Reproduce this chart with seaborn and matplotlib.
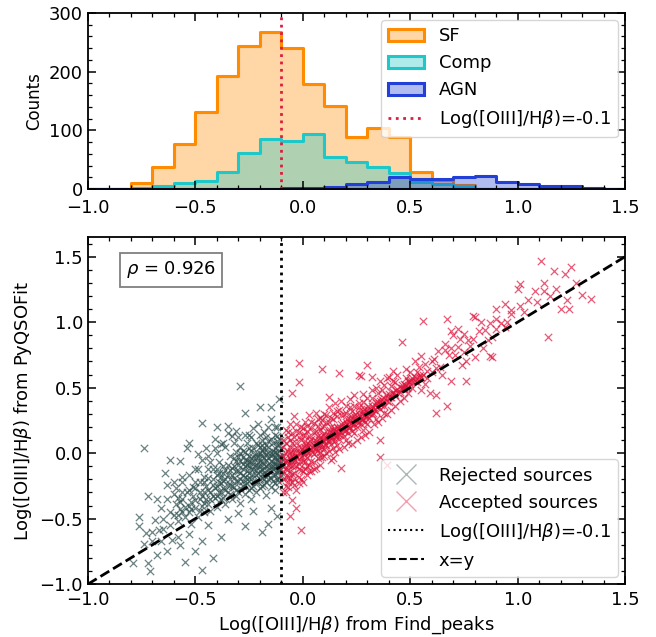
import numpy as np
import pandas as pd
import seaborn as sns
import matplotlib
matplotlib.use("Agg")
import matplotlib.pyplot as plt
from matplotlib.ticker import MultipleLocator
from matplotlib.patches import Patch
from matplotlib.lines import Line2D

# ---------------- data ----------------
bin_edges = [round(-1.0 + 0.1 * i, 2) for i in range(26)]
sf_counts = [1, 0, 11, 37, 77, 131, 192, 244, 267, 240, 178, 141, 89, 104, 89, 29, 16, 7, 1, 0, 0, 0, 0, 0, 0]
comp_counts = [0, 0, 2, 5, 11, 14, 29, 62, 86, 82, 93, 54, 46, 37, 28, 12, 8, 3, 0, 0, 0, 0, 0, 0, 0]
agn_counts = [0, 0, 0, 0, 0, 0, 0, 0, 1, 2, 2, 3, 9, 12, 20, 18, 17, 20, 22, 12, 8, 6, 6, 2, 1]

rejected_pts = [
    (-0.29, 0.51), (-0.20, 0.35), (-0.15, 0.35), (-0.27, 0.31), (-0.11, 0.41), (-0.15, 0.26), (-0.21, 0.22),
    (-0.23, 0.19), (-0.47, 0.23), (-0.40, 0.20), (-0.35, 0.21), (-0.33, 0.13), (-0.74, 0.04), (-0.62, -0.05),
    (-0.57, -0.06), (-0.64, -0.15), (-0.72, -0.33), (-0.76, -0.49), (-0.76, -0.56), (-0.79, -0.84), (-0.72, -0.84),
    (-0.71, -0.90), (-0.47, -0.89), (-0.53, 0.08), (-0.54, 0.04), (-0.49, -0.01), (-0.45, 0.04), (-0.41, 0.11),
    (-0.29, 0.05), (-0.40, 0.00), (-0.51, -0.26), (-0.49, -0.12), (-0.63, -0.35), (-0.60, -0.31), (-0.69, -0.51),
    (-0.74, -0.69), (-0.68, -0.78), (-0.63, -0.75), (-0.55, -0.83), (-0.50, -0.75), (-0.42, -0.80), (-0.19, -0.60),
    (-0.16, -0.54), (-0.27, -0.56), (-0.38, -0.64), (-0.58, -0.64),
    (-0.35, 0.15), (-0.31, 0.17), (-0.25, 0.14), (-0.18, 0.16), (-0.13, 0.20), (-0.12, 0.13), (-0.37, 0.08),
    (-0.43, -0.07), (-0.46, -0.18), (-0.56, -0.18), (-0.60, -0.22), (-0.66, -0.42), (-0.70, -0.60), (-0.65, -0.58),
    (-0.61, -0.66), (-0.57, -0.70), (-0.53, -0.62), (-0.47, -0.67), (-0.44, -0.55), (-0.35, -0.50), (-0.30, -0.46),
    (-0.23, -0.44), (-0.15, -0.42), (-0.12, -0.48),
    (-0.60, -0.47), (-0.59, -0.39), (-0.58, -0.52), (-0.57, -0.43), (-0.56, -0.35), (-0.55, -0.49), (-0.55, -0.41),
    (-0.54, -0.30), (-0.53, -0.45), (-0.52, -0.37), (-0.52, -0.54), (-0.51, -0.33), (-0.50, -0.42), (-0.50, -0.27),
    (-0.49, -0.49), (-0.48, -0.35), (-0.48, -0.22), (-0.47, -0.40), (-0.46, -0.30), (-0.46, -0.45), (-0.45, -0.25),
    (-0.45, -0.35),
    (-0.44, -0.39), (-0.44, -0.19), (-0.43, -0.30), (-0.43, -0.44), (-0.42, -0.24), (-0.42, -0.12), (-0.41, -0.34),
    (-0.41, -0.27), (-0.40, -0.17), (-0.40, -0.41), (-0.39, -0.30), (-0.39, -0.07), (-0.38, -0.23), (-0.38, -0.35),
    (-0.37, -0.15), (-0.37, -0.27), (-0.36, -0.39), (-0.36, -0.20), (-0.35, -0.09), (-0.35, -0.30), (-0.34, -0.24),
    (-0.34, -0.02), (-0.33, -0.17), (-0.33, -0.35), (-0.32, -0.26), (-0.32, -0.10), (-0.31, -0.21), (-0.31, 0.01),
    (-0.30, -0.30), (-0.30, -0.14),
    (-0.29, -0.20), (-0.29, -0.06), (-0.29, -0.38), (-0.28, -0.25), (-0.28, -0.12), (-0.28, 0.02), (-0.27, -0.18),
    (-0.27, -0.31), (-0.26, -0.09), (-0.26, -0.23), (-0.26, 0.08), (-0.25, -0.15), (-0.25, -0.28), (-0.25, -0.02),
    (-0.24, -0.20), (-0.24, -0.07), (-0.24, -0.35), (-0.23, -0.12), (-0.23, 0.04), (-0.23, -0.25), (-0.22, -0.17),
    (-0.22, -0.04), (-0.22, -0.30), (-0.21, -0.10), (-0.21, 0.06), (-0.21, -0.22), (-0.20, -0.14), (-0.20, 0.00),
    (-0.20, -0.27), (-0.19, -0.07), (-0.19, -0.19), (-0.19, 0.10), (-0.18, -0.11), (-0.18, -0.24), (-0.18, 0.01),
    (-0.17, -0.16), (-0.17, -0.05), (-0.17, -0.32), (-0.16, -0.09), (-0.16, 0.05), (-0.16, -0.20), (-0.15, -0.13),
    (-0.15, -0.02), (-0.15, -0.26), (-0.14, -0.07), (-0.14, 0.08), (-0.14, -0.17), (-0.13, -0.11), (-0.13, 0.01),
    (-0.13, -0.23), (-0.12, -0.05), (-0.12, -0.15), (-0.12, 0.06), (-0.11, -0.09), (-0.11, -0.19), (-0.11, 0.02),
    (-0.105, -0.03), (-0.105, -0.13), (-0.105, 0.10), (-0.10, -0.07), (-0.10, -0.17), (-0.10, 0.04),
    (-0.27, -0.05), (-0.24, 0.02), (-0.21, -0.03), (-0.18, -0.04), (-0.15, -0.06), (-0.13, -0.04), (-0.11, -0.03),
    (-0.19, -0.12), (-0.16, -0.13), (-0.14, -0.12), (-0.12, -0.10), (-0.22, -0.09), (-0.25, -0.10), (-0.28, -0.17),
    (-0.31, -0.33), (-0.34, -0.13), (-0.37, -0.21), (-0.40, -0.25), (-0.43, -0.35), (-0.47, -0.33), (-0.52, -0.43),
    (-0.57, -0.37), (-0.62, -0.45), (-0.65, -0.50), (-0.67, -0.59), (-0.70, -0.67), (-0.73, -0.61), (-0.66, -0.67),
    (-0.62, -0.55), (-0.59, -0.27), (-0.63, -0.24), (-0.68, -0.35), (-0.56, -0.22), (-0.53, -0.17), (-0.50, -0.12),
    (-0.47, -0.05), (-0.44, -0.02), (-0.41, 0.04), (-0.38, 0.07), (-0.36, 0.05), (-0.32, 0.08), (-0.30, 0.12),
    (-0.27, 0.14), (-0.24, 0.12), (-0.20, 0.14), (-0.17, 0.12), (-0.13, 0.14), (-0.12, 0.20), (-0.16, 0.20),
    (-0.19, 0.06),
    (-0.11, -0.02), (-0.11, -0.12), (-0.11, 0.06), (-0.11, -0.22), (-0.11, -0.07), (-0.12, 0.00), (-0.12, -0.09),
    (-0.12, -0.20), (-0.12, 0.09), (-0.12, -0.14), (-0.13, -0.03), (-0.13, -0.08), (-0.13, 0.04), (-0.13, -0.17),
    (-0.13, -0.28), (-0.14, -0.01), (-0.14, -0.10), (-0.14, 0.02), (-0.14, -0.21), (-0.15, 0.00), (-0.15, -0.10),
    (-0.15, -0.19), (-0.15, 0.11), (-0.16, -0.04), (-0.16, -0.17), (-0.16, 0.00), (-0.16, 0.09), (-0.17, -0.01),
    (-0.17, -0.10), (-0.17, -0.22), (-0.17, 0.06), (-0.18, -0.08), (-0.18, -0.15), (-0.18, 0.04), (-0.18, -0.20),
    (-0.19, -0.02), (-0.19, -0.16), (-0.19, -0.25), (-0.19, 0.02), (-0.20, -0.06), (-0.20, -0.10), (-0.20, 0.05),
    (-0.20, -0.20), (-0.21, -0.07), (-0.21, -0.15), (-0.21, -0.01), (-0.22, -0.13), (-0.22, -0.01), (-0.22, -0.22),
    (-0.22, 0.08), (-0.23, -0.08), (-0.23, -0.17), (-0.23, -0.03), (-0.24, -0.12), (-0.24, -0.04), (-0.24, -0.27),
    (-0.25, -0.07), (-0.25, -0.19), (-0.25, 0.04), (-0.26, -0.14), (-0.26, -0.05), (-0.26, -0.20), (-0.27, -0.10),
    (-0.27, -0.24), (-0.27, 0.01), (-0.28, -0.08), (-0.28, -0.21), (-0.28, -0.03), (-0.29, -0.15), (-0.29, -0.27),
    (-0.29, 0.00), (-0.30, -0.21), (-0.30, -0.09), (-0.30, -0.03), (-0.31, -0.14), (-0.31, -0.28), (-0.31, -0.06),
    (-0.32, -0.19), (-0.32, -0.04), (-0.33, -0.25), (-0.33, -0.11), (-0.34, -0.20), (-0.34, -0.31), (-0.35, -0.17),
    (-0.35, -0.24), (-0.36, -0.13), (-0.36, -0.28), (-0.37, -0.10), (-0.37, -0.34), (-0.38, -0.18), (-0.38, -0.30),
    (-0.39, -0.22), (-0.39, -0.15), (-0.40, -0.33), (-0.40, -0.12), (-0.42, -0.20), (-0.42, -0.33), (-0.44, -0.28),
    (-0.44, -0.12), (-0.46, -0.38), (-0.46, -0.22), (-0.48, -0.30), (-0.48, -0.44), (-0.50, -0.36), (-0.50, -0.22),
    (-0.53, -0.28), (-0.53, -0.40), (-0.56, -0.45), (-0.56, -0.30), (-0.58, -0.34), (-0.58, -0.47),
]

accepted_pts = [
    (-0.09, -0.08), (-0.09, -0.02), (-0.08, -0.12), (-0.08, -0.05), (-0.07, 0.02), (-0.07, -0.09), (-0.06, -0.04),
    (-0.06, 0.05), (-0.05, -0.10), (-0.05, -0.01), (-0.04, 0.03), (-0.04, -0.06), (-0.03, 0.08), (-0.03, -0.02),
    (-0.02, 0.01), (-0.02, -0.08), (-0.01, 0.05), (-0.01, -0.03), (0.00, 0.02), (0.00, -0.06), (0.01, 0.09),
    (0.01, 0.00), (0.02, 0.04), (0.02, -0.04), (0.03, 0.07), (0.03, 0.01), (0.04, 0.11), (0.04, 0.03), (0.05, 0.06),
    (0.05, -0.01), (0.06, 0.09), (0.06, 0.03), (0.07, 0.13), (0.07, 0.06), (0.08, 0.08), (0.08, 0.01), (0.09, 0.11),
    (0.09, 0.05), (0.10, 0.15), (0.10, 0.09), (0.11, 0.12), (0.11, 0.06), (0.12, 0.16), (0.12, 0.10), (0.13, 0.13),
    (0.13, 0.07), (0.14, 0.18), (0.14, 0.12), (0.15, 0.15), (0.15, 0.09), (0.16, 0.20), (0.16, 0.14), (0.17, 0.17),
    (0.17, 0.11), (0.18, 0.22), (0.18, 0.16), (0.19, 0.19), (0.19, 0.13), (0.20, 0.24), (0.20, 0.18), (0.21, 0.21),
    (0.21, 0.15), (0.22, 0.26), (0.22, 0.20), (0.23, 0.23), (0.23, 0.17), (0.24, 0.28), (0.24, 0.22), (0.25, 0.25),
    (0.25, 0.20), (0.26, 0.30), (0.26, 0.24), (0.27, 0.27), (0.27, 0.22), (0.28, 0.32), (0.28, 0.26), (0.29, 0.29),
    (0.29, 0.24), (0.30, 0.34), (0.30, 0.28), (0.31, 0.31), (0.31, 0.27), (0.32, 0.36), (0.32, 0.30), (0.33, 0.33),
    (0.34, 0.38), (0.34, 0.32), (0.35, 0.36), (0.36, 0.40), (0.36, 0.34), (0.37, 0.38), (0.38, 0.42), (0.38, 0.36),
    (0.39, 0.40), (0.40, 0.45), (0.40, 0.39), (0.41, 0.43), (0.42, 0.47), (0.43, 0.44), (0.44, 0.49), (0.45, 0.47),
    (0.46, 0.50), (0.47, 0.53), (0.48, 0.51), (0.49, 0.55), (0.50, 0.53), (0.51, 0.57), (0.52, 0.55), (0.54, 0.58),
    (-0.09, 0.10), (-0.09, -0.20), (-0.08, 0.18), (-0.08, -0.25), (-0.07, 0.12), (-0.07, -0.18), (-0.06, 0.22),
    (-0.06, -0.14), (-0.05, 0.15), (-0.05, -0.22), (-0.04, 0.28), (-0.04, -0.15), (-0.03, 0.17), (-0.03, -0.28),
    (-0.02, 0.12), (-0.02, -0.18), (-0.01, 0.20), (-0.01, -0.13), (0.00, 0.14), (0.00, -0.22), (0.01, 0.24),
    (0.01, -0.12), (0.02, 0.17), (0.02, -0.17), (0.03, 0.29), (0.03, -0.09), (0.04, 0.19), (0.04, -0.14),
    (0.05, 0.23), (0.05, -0.07), (0.06, 0.31), (0.06, -0.11), (0.07, 0.21), (0.07, -0.04), (0.08, 0.27),
    (0.08, -0.09), (0.09, 0.20), (0.09, -0.03), (0.10, 0.30), (0.10, -0.02), (0.11, 0.24), (0.11, 0.00),
    (0.12, 0.35), (0.12, 0.02), (0.13, 0.27), (0.13, -0.05), (0.14, 0.31), (0.14, 0.04), (0.15, 0.38), (0.15, 0.01),
    (0.16, 0.28), (0.17, 0.33), (0.17, 0.03), (0.18, 0.40), (0.19, 0.30), (0.19, 0.05), (0.20, 0.36), (0.21, 0.08),
    (0.22, 0.41), (0.23, 0.32), (0.23, 0.07), (0.24, 0.44), (0.25, 0.10), (0.26, 0.38), (0.27, 0.12), (0.28, 0.45),
    (0.29, 0.14), (0.30, 0.42), (0.31, 0.16), (0.32, 0.48), (0.33, 0.22), (0.34, 0.50), (0.35, 0.24), (0.36, 0.55),
    (0.37, 0.27), (0.38, 0.52), (0.39, 0.30), (0.40, 0.58), (0.41, 0.33), (0.42, 0.55), (0.43, 0.36), (0.44, 0.60),
    (0.46, 0.52), (0.47, 0.42), (0.48, 0.57), (0.49, 0.46), (0.50, 0.62), (0.51, 0.50), (0.52, 0.58), (0.53, 0.54),
    (0.54, 0.66), (0.55, 0.48), (0.56, 0.60), (0.58, 0.63), (0.60, 0.70),
    (-0.02, 0.69), (-0.02, 0.54), (0.09, 0.64), (0.17, 0.61), (0.30, 0.67), (0.46, 0.85), (0.26, 0.60), (0.39, 0.57),
    (0.42, 0.63), (0.12, 0.43), (-0.05, 0.46), (0.36, 0.10), (0.36, -0.03), (0.39, -0.09), (0.18, -0.11),
    (0.14, -0.04), (0.62, 0.31), (0.67, 0.36), (0.76, 0.55), (0.87, 0.74), (-0.01, -0.59), (-0.05, -0.36),
    (-0.08, -0.30), (-0.03, -0.42), (-0.06, -0.48), (0.27, 0.59), (0.32, 0.58),
    (1.11, 1.47), (1.17, 1.39), (1.22, 1.37), (1.25, 1.42), (1.01, 1.29), (1.00, 1.25), (1.08, 1.24), (1.12, 1.30),
    (1.12, 1.24), (1.09, 1.15), (1.15, 1.20), (1.23, 1.17), (1.24, 1.10), (1.30, 1.21), (1.34, 1.18), (1.14, 0.89),
    (1.01, 1.12), (0.97, 1.06), (0.94, 1.14), (0.90, 1.10), (0.90, 1.02), (0.87, 0.99), (0.92, 0.99), (0.97, 1.09),
    (0.80, 1.04), (0.67, 1.02), (0.56, 1.01), (0.69, 0.93), (0.83, 1.00), (0.85, 0.94), (0.88, 0.89), (0.86, 0.86),
    (0.79, 0.87), (0.77, 0.86), (0.73, 0.87), (0.72, 0.81), (0.69, 0.80), (0.66, 0.79), (0.75, 0.77), (0.68, 0.75),
    (0.71, 0.75), (0.80, 0.73), (0.88, 0.73), (0.76, 0.70), (0.74, 0.67), (0.64, 0.66), (0.62, 0.65), (0.60, 0.62),
    (0.65, 0.60), (0.69, 0.55), (0.59, 0.46), (0.62, 0.44), (0.55, 0.58), (0.57, 0.53), (0.79, 1.05), (0.94, 0.96),
    (0.48, 0.64), (0.52, 0.70), (0.55, 0.74), (0.50, 0.55), (0.47, 0.50), (0.53, 0.62), (0.57, 0.68), (0.58, 0.57),
    (0.61, 0.72), (0.63, 0.78), (0.66, 0.83), (0.70, 0.90), (0.72, 0.95), (0.75, 0.91), (0.78, 0.82), (0.82, 0.93),
    (0.84, 0.80), (0.90, 0.95), (0.95, 1.00), (1.05, 1.17), (1.03, 1.08), (1.18, 1.25), (1.27, 1.30), (1.20, 1.10),
    (-0.095, -0.10), (-0.095, -0.04), (-0.085, -0.07), (-0.085, 0.00), (-0.075, -0.06), (-0.075, -0.13),
    (-0.065, -0.01), (-0.065, -0.08), (-0.055, -0.05), (-0.055, 0.02), (-0.045, -0.03), (-0.045, -0.09),
    (-0.035, 0.00), (-0.035, -0.05), (-0.025, 0.04), (-0.025, -0.03), (-0.015, 0.00), (-0.015, -0.06),
    (-0.005, 0.03), (-0.005, -0.02), (0.005, 0.05), (0.005, -0.01), (0.015, 0.02), (0.015, 0.07), (0.025, 0.00),
    (0.025, 0.05), (0.035, 0.09), (0.035, 0.03), (0.045, 0.05), (0.045, 0.01), (0.055, 0.10), (0.055, 0.04),
    (0.065, 0.07), (0.065, 0.02), (0.075, 0.10), (0.075, 0.04), (0.085, 0.12), (0.085, 0.07), (0.095, 0.09),
    (0.095, 0.14), (0.105, 0.11), (0.105, 0.06), (0.115, 0.14), (0.115, 0.09), (0.125, 0.12), (0.125, 0.18),
    (0.135, 0.15), (0.135, 0.10), (0.145, 0.14), (0.145, 0.19), (0.155, 0.17), (0.155, 0.12), (0.165, 0.19),
    (0.165, 0.15), (0.175, 0.20), (0.175, 0.14), (0.185, 0.18), (0.185, 0.23), (0.195, 0.21), (0.195, 0.17),
    (0.205, 0.22), (0.205, 0.26), (0.215, 0.24), (0.215, 0.19), (0.225, 0.23), (0.225, 0.28), (0.235, 0.26),
    (0.235, 0.21), (0.245, 0.25), (0.245, 0.30), (0.255, 0.27), (0.255, 0.23), (0.265, 0.28), (0.265, 0.33),
    (0.275, 0.30), (0.275, 0.25), (0.285, 0.29), (0.285, 0.34), (0.295, 0.32), (0.295, 0.27), (0.305, 0.31),
    (0.305, 0.36), (0.315, 0.33), (0.325, 0.35), (0.325, 0.31), (0.335, 0.37), (0.345, 0.35), (0.345, 0.40),
    (0.355, 0.38), (0.365, 0.41), (0.365, 0.37), (0.375, 0.40), (0.385, 0.44), (0.395, 0.42), (0.405, 0.43),
    (0.415, 0.46), (0.425, 0.45), (0.435, 0.48), (0.445, 0.46), (0.455, 0.50), (0.465, 0.49), (0.475, 0.52),
    (0.485, 0.50), (0.495, 0.54), (0.505, 0.56), (0.525, 0.57), (0.545, 0.60),
    (-0.09, 0.05), (-0.09, -0.14), (-0.08, 0.08), (-0.08, -0.18), (-0.07, 0.16), (-0.07, -0.22), (-0.06, 0.10),
    (-0.06, -0.19), (-0.05, 0.08), (-0.05, -0.16), (-0.04, 0.12), (-0.04, -0.20), (-0.03, 0.22), (-0.03, -0.10),
    (-0.02, 0.16), (-0.02, -0.12), (-0.01, 0.10), (-0.01, -0.20), (0.00, 0.19), (0.00, -0.14), (0.01, 0.14),
    (0.01, -0.07), (0.02, 0.21), (0.02, -0.10), (0.03, 0.13), (0.03, -0.14), (0.04, 0.24), (0.04, -0.06),
    (0.05, 0.15), (0.05, -0.12), (0.06, 0.17), (0.07, 0.26), (0.08, 0.18), (0.08, -0.03), (0.09, 0.25),
    (0.10, 0.21), (0.10, 0.03), (0.11, 0.29), (0.12, 0.24), (0.13, 0.20), (0.14, 0.26), (0.16, 0.32), (0.16, 0.06),
    (0.18, 0.29), (0.20, 0.31), (0.20, 0.10), (0.22, 0.35), (0.24, 0.36), (0.24, 0.15), (0.26, 0.35), (0.28, 0.39),
    (0.28, 0.18), (0.30, 0.22), (0.32, 0.42), (0.34, 0.26), (0.35, 0.46), (0.37, 0.48), (0.38, 0.31), (0.41, 0.51),
    (0.43, 0.54), (0.45, 0.40), (-0.07, -0.26), (-0.04, -0.24), (-0.09, -0.30), (-0.02, -0.23),
]

rho_text = r"$\rho$ = 0.926"
threshold = -0.1

# ---------------- style ----------------
plt.rcParams["font.family"] = ["DejaVu Sans"]
plt.rcParams["font.size"] = 13
plt.rcParams["mathtext.fontset"] = "dejavusans"

c_sf, c_comp, c_agn = "#ff8c00", "#1ec8c8", "#2240d8"
c_line = "#dc1e3c"
c_rej, c_acc = "#2f4f4f", "#dc143c"

fig = plt.figure(figsize=(6.56, 6.37), dpi=100)
ax1 = fig.add_axes([0.134, 0.703, 0.819, 0.277])
ax2 = fig.add_axes([0.134, 0.083, 0.819, 0.545])

centers = [round((bin_edges[i] + bin_edges[i + 1]) / 2, 3) for i in range(len(bin_edges) - 1)]
hist_df = pd.DataFrame({"x": centers, "SF": sf_counts, "Comp": comp_counts, "AGN": agn_counts})

for name, col in [("SF", c_sf), ("Comp", c_comp), ("AGN", c_agn)]:
    sns.histplot(data=hist_df, x="x", weights=name, bins=bin_edges, element="step", fill=True,
                 color=col, alpha=0.35, linewidth=2.2, ax=ax1)

ax1.axvline(threshold, color=c_line, ls=":", lw=2)
ax1.set_xlim(-1.0, 1.5)
ax1.set_ylim(0, 300)
ax1.set_xlabel("")
ax1.set_ylabel("Counts", fontsize=12)
ax1.xaxis.set_major_locator(MultipleLocator(0.5))
ax1.xaxis.set_minor_locator(MultipleLocator(0.1))
ax1.yaxis.set_major_locator(MultipleLocator(100))
ax1.yaxis.set_minor_locator(MultipleLocator(20))

h1 = [Patch(facecolor=matplotlib.colors.to_rgba(c, 0.35), edgecolor=c, lw=2.2) for c in (c_sf, c_comp, c_agn)]
h1.append(Line2D([], [], color=c_line, ls=":", lw=2))
ax1.legend(h1, ["SF", "Comp", "AGN", r"Log([OIII]/H$\beta$)=-0.1"], loc="upper right", fontsize=13,
           handlelength=2.0, borderaxespad=0.4)

rej = pd.DataFrame(rejected_pts, columns=["x", "y"])
acc = pd.DataFrame(accepted_pts, columns=["x", "y"])
sns.scatterplot(data=rej, x="x", y="y", marker="x", color=c_rej, s=28, linewidth=0.9, alpha=0.7, ax=ax2)
sns.scatterplot(data=acc, x="x", y="y", marker="x", color=c_acc, s=28, linewidth=0.9, alpha=0.7, ax=ax2)
ax2.axvline(threshold, color="black", ls=":", lw=2)
ax2.plot([-1.0, 1.5], [-1.0, 1.5], color="black", ls="--", lw=2)
ax2.set_xlim(-1.0, 1.5)
ax2.set_ylim(-1.0, 1.65)
ax2.set_xlabel(r"Log([OIII]/H$\beta$) from Find_peaks", fontsize=13)
ax2.set_ylabel(r"Log([OIII]/H$\beta$) from PyQSOFit", fontsize=13)
ax2.xaxis.set_major_locator(MultipleLocator(0.5))
ax2.xaxis.set_minor_locator(MultipleLocator(0.1))
ax2.yaxis.set_major_locator(MultipleLocator(0.5))
ax2.yaxis.set_minor_locator(MultipleLocator(0.1))
ax2.text(0.155, 0.905, rho_text, transform=ax2.transAxes, ha="center", va="center", fontsize=13,
         bbox=dict(boxstyle="square,pad=0.35", facecolor="white", edgecolor="gray", lw=1.3))

h2 = [Line2D([], [], marker="x", ls="none", color=c_rej, alpha=0.4, markersize=14, mew=1.0),
      Line2D([], [], marker="x", ls="none", color=c_acc, alpha=0.4, markersize=14, mew=1.0),
      Line2D([], [], color="black", ls=":", lw=1.5),
      Line2D([], [], color="black", ls="--", lw=1.5)]
ax2.legend(h2, ["Rejected sources", "Accepted sources", r"Log([OIII]/H$\beta$)=-0.1", "x=y"],
           loc="lower right", fontsize=13, handlelength=2.0, borderaxespad=0.4)

for ax in (ax1, ax2):
    ax.tick_params(which="both", direction="in", top=True, right=True, labelsize=13)
    ax.tick_params(which="major", length=6, width=1.1)
    ax.tick_params(which="minor", length=3, width=0.9)
    ax.tick_params(axis="x", which="major", pad=5)
    for sp in ax.spines.values():
        sp.set_linewidth(1.3)
ax1.tick_params(axis="x", which="major", pad=7)

fig.savefig("out.png", dpi=100)
